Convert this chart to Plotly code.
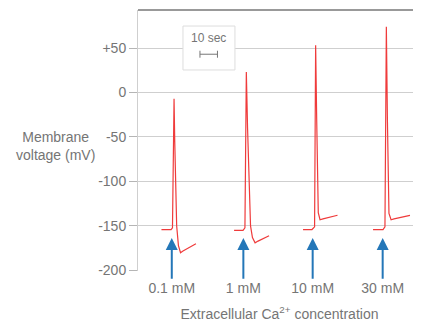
import plotly.graph_objects as go

# ---- data ----
categories = ["0.1 mM", "1 mM", "10 mM", "30 mM"]
stim_times = [19.3, 60.2, 99.8, 139.8]          # seconds (arrow positions)

t_01 = [13.4, 18.9, 19.7, 20.6, 21.0, 22.1, 23.1, 24.3, 25.7, 33.1]
v_01 = [-154, -154, -152, -7, -55, -150, -172, -180, -178, -170]

t_1 = [54.9, 60.0, 61.1, 61.9, 62.6, 64.3, 65.4, 66.9, 68.6, 74.9]
v_1 = [-155, -155, -152, 23, -40, -150, -163, -169, -167, -161]

t_10 = [94.3, 99.4, 100.9, 101.5, 102.1, 103.0, 104.0, 105.7, 114.0]
v_10 = [-154, -154, -151, 53, -30, -135, -143, -142, -138]

t_30 = [134.3, 140.0, 141.1, 141.9, 142.5, 143.4, 144.6, 146.3, 155.4]
v_30 = [-154, -154, -151, 74, -30, -136, -143, -142, -138]

y_ticks = [50, 0, -50, -100, -150, -200]
y_ticktext = ["+50", "0", "-50", "-100", "-150", "-200"]

scale_t = [35.4, 45.4]
scale_v = [43, 43]

RED = "#ef3b3b"
BLUE = "#2477b8"
GREY = "#757575"
FONT = "Liberation Sans"

# The page body has an 8px margin, so the figure is laid out 8px smaller
W, H = 413, 314
L, T, B = 130, 2, 51
PW, PH = W - L, H - T - B

fig = go.Figure()
for t, v in [(t_01, v_01), (t_1, v_1), (t_10, v_10), (t_30, v_30)]:
    fig.add_trace(go.Scatter(x=t, y=v, mode="lines",
                             line=dict(color=RED, width=1.2),
                             hoverinfo="skip", showlegend=False))

# scale box
fig.add_shape(type="rect", x0=25.7, x1=55.4, y0=25.3, y1=74.7,
              xref="x", yref="y", fillcolor="white",
              line=dict(color="#dddddd", width=1), layer="between")
fig.add_trace(go.Scatter(x=scale_t, y=scale_v, mode="lines+markers",
                         line=dict(color="#777777", width=1),
                         marker=dict(symbol="line-ns-open", size=5,
                                     line=dict(color="#777777", width=1)),
                         hoverinfo="skip", showlegend=False))
fig.add_annotation(x=40.4, y=61, xref="x", yref="y", text="10 sec",
                   showarrow=False, font=dict(family=FONT, size=12, color=GREY))

# stimulus arrows
for ts in stim_times:
    fig.add_annotation(x=ts, y=-163.5, xref="x", yref="y",
                       ax=ts, ay=-211, axref="x", ayref="y",
                       text="", showarrow=True, arrowhead=2, arrowsize=1.2,
                       arrowwidth=2, arrowcolor=BLUE)

# top border
fig.add_shape(type="line", x0=0, x1=1, y0=1, y1=1, xref="paper", yref="paper",
              line=dict(color="#777777", width=1.5))

# y title (position given in figure pixels, converted to paper)
fig.add_annotation(x=(47 - L) / PW, y=(T + PH - 138) / PH,
                   xref="paper", yref="paper", xanchor="center", yanchor="middle",
                   text="Membrane<br>voltage (mV)", showarrow=False,
                   font=dict(family=FONT, size=14, color=GREY))

fig.update_layout(
    width=W, height=H,
    margin=dict(l=L, r=0, t=T, b=B, autoexpand=False),
    paper_bgcolor="white", plot_bgcolor="white",
    font=dict(family=FONT, size=14, color=GREY),
    xaxis=dict(range=[0, 161.7], showgrid=False, zeroline=False,
               showline=False, tickvals=stim_times, ticktext=categories,
               ticks="", tickfont=dict(size=14, color=GREY),
               ticklabelstandoff=7, automargin=False,
               title=dict(text="Extracellular Ca<sup>2+</sup> concentration",
                          font=dict(size=14, color=GREY), standoff=15)),
    yaxis=dict(range=[-200.6, 92.7], tickvals=y_ticks, ticktext=y_ticktext,
               showgrid=True, gridcolor="#cfcfcf", gridwidth=1,
               zeroline=False, showline=True, linecolor="#cfcfcf",
               ticks="outside", ticklen=8, tickcolor="#b5b5b5",
               automargin=False,
               tickfont=dict(size=14, color=GREY)),
)

fig.write_html("out.html")
